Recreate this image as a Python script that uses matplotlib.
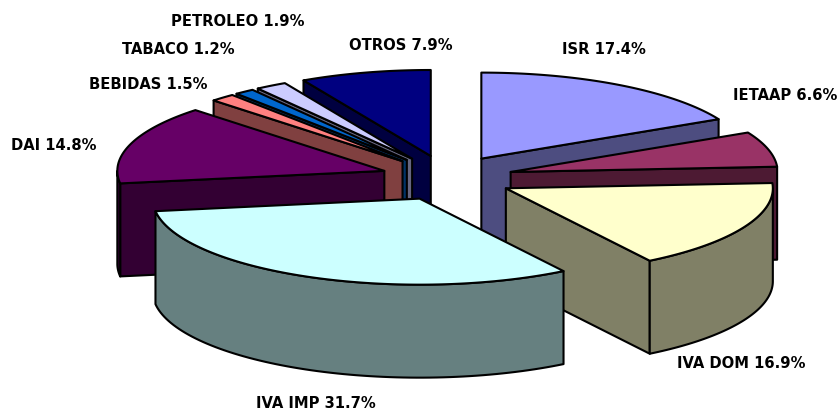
import numpy as np
import matplotlib
matplotlib.use("Agg")
import matplotlib.pyplot as plt
from matplotlib.patches import Polygon
from matplotlib.colors import to_rgb

names = ["ISR", "IETAAP", "IVA DOM", "IVA IMP", "DAI", "BEBIDAS", "TABACO", "PETROLEO", "OTROS"]
values = [17.4, 6.6, 16.9, 31.7, 14.8, 1.5, 1.2, 1.9, 7.9]
colors = ["#9999FF", "#993366", "#FFFFCC", "#CCFFFF", "#660066",
          "#FF8080", "#0066CC", "#CCCCFF", "#000080"]

# ---------- layout, in pixels ----------
CX, CY = 447, 178        # pie centre before the slices are pulled out
A, B = 267, 86           # ellipse radii of the top face
DEPTH = 93               # height of the pie
EX, EY = 66, 22.7        # how far each slice is pulled out along its bisector
LW = 1.5
paint_order = ["OTROS", "PETROLEO", "TABACO", "BEBIDAS", "ISR", "IETAAP", "DAI", "IVA DOM", "IVA IMP"]
label_pos = {"ISR": (604, 49), "IETAAP": (785, 95), "IVA DOM": (741, 363), "IVA IMP": (316, 403),
             "DAI": (54, 145), "BEBIDAS": (148, 84), "TABACO": (178, 49),
             "PETROLEO": (238, 21), "OTROS": (401, 45)}

fig = plt.figure(figsize=(8.39, 4.12), dpi=100)
ax = fig.add_axes([0, 0, 1, 1])
ax.set_xlim(0, 839)
ax.set_ylim(412, 0)
ax.axis("off")


def rim_xy(apex, theta):
    # theta is in radians, clockwise from 12 o'clock
    return np.column_stack([apex[0] + A * np.sin(theta), apex[1] - B * np.cos(theta)])


def add_face(pts, color):
    ax.add_patch(Polygon(pts, closed=True, facecolor=color, edgecolor="black",
                         linewidth=LW, joinstyle="round"))


def draw_slice(start, end, color):
    # start/end in degrees
    mid = np.radians((start + end) / 2)
    apex = (CX + EX * np.sin(mid), CY - EY * np.cos(mid))
    drop = np.array([0, DEPTH])
    dark = tuple(c * 0.5 for c in to_rgb(color))

    # cut faces, only the ones turned towards the viewer
    for ang, visible in ((start, np.sin(np.radians(start)) < -1e-6),
                         (end, np.sin(np.radians(end)) > 1e-6)):
        if visible:
            p = rim_xy(apex, np.radians([ang]))[0]
            add_face([apex, p, p + drop, np.array(apex) + drop], dark)

    # outer wall, the front half of the ellipse only
    lo, hi = max(start, 90), min(end, 270)
    if lo < hi:
        edge = rim_xy(apex, np.radians(np.linspace(lo, hi, 80)))
        add_face(np.vstack([edge, edge[::-1] + drop]), dark)

    # top face
    arc = rim_xy(apex, np.radians(np.linspace(start, end, 120)))
    add_face(np.vstack([[apex], arc]), color)


ends = np.cumsum(values) / np.sum(values) * 360
starts = np.concatenate([[0], ends[:-1]])
for name in paint_order:
    i = names.index(name)
    draw_slice(starts[i], ends[i], colors[i])

for name, val in zip(names, values):
    x, y = label_pos[name]
    ax.text(x, y, f"{name} {val}%", ha="center", va="center", fontsize=10.6,
            fontweight="bold", family="DejaVu Sans", color="black")

fig.savefig("out.png", dpi=100)
